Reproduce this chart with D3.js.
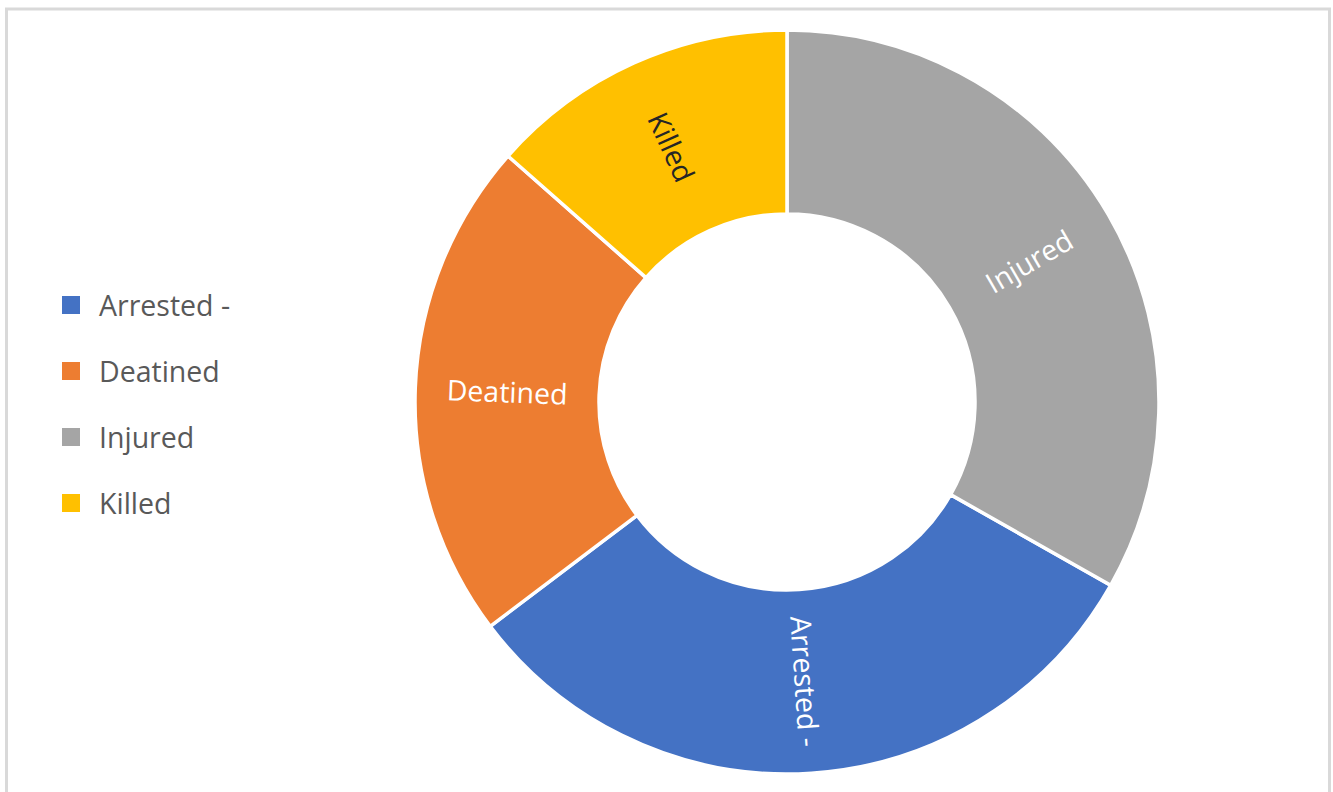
<!DOCTYPE html>
<html>
<head>
<meta charset="utf-8">
<script src="https://cdn.jsdelivr.net/npm/d3@7"></script>
<style>
  body { margin: 0; background: #fff; }
  svg { display: block; font-family: 'Open Sans', sans-serif; }
</style>
</head>
<body>
<script>
// legend order
const categories = ['Arrested -', 'Deatined', 'Injured', 'Killed']
const values = [31.5, 21.8, 33.2, 13.5]
const colors = ['#4472C4', '#ED7D31', '#A5A5A5', '#FFC000']
const labelColors = ['#ffffff', '#ffffff', '#ffffff', '#262626']
// clockwise order of the slices starting at 12 o'clock
const sliceOrder = ['Injured', 'Arrested -', 'Deatined', 'Killed']

const width = 1333, height = 792
const cx = 787, cy = 402
const outerR = 372, innerR = 188

const data = categories.map((c, i) => ({ name: c, value: values[i], color: colors[i], label: labelColors[i] }))

const svg = d3.select('body').append('svg')
    .attr('width', width)
    .attr('height', height)

svg.append('rect')
    .attr('x', 6.5).attr('y', 9)
    .attr('width', 1323).attr('height', 800)
    .attr('fill', 'none')
    .attr('stroke', '#d9d9d9')
    .attr('stroke-width', 3)

const pie = d3.pie()
    .value(d => d.value)
    .sort((a, b) => sliceOrder.indexOf(a.name) - sliceOrder.indexOf(b.name))

const arc = d3.arc().innerRadius(innerR).outerRadius(outerR)

const g = svg.append('g').attr('transform', `translate(${cx},${cy})`)
const arcs = pie(data)

g.selectAll('path')
    .data(arcs)
    .enter()
    .append('path')
    .attr('d', arc)
    .attr('fill', d => d.data.color)
    .attr('stroke', '#fff')
    .attr('stroke-width', 3.5)

g.selectAll('text')
    .data(arcs)
    .enter()
    .append('text')
    .attr('transform', d => {
        const [x, y] = arc.centroid(d)
        const mid = (d.startAngle + d.endAngle) / 2
        let rot = mid * 180 / Math.PI - 90
        while (rot > 90) rot -= 180
        while (rot < -90) rot += 180
        return `translate(${x},${y}) rotate(${rot})`
    })
    .attr('text-anchor', 'middle')
    .attr('dominant-baseline', 'central')
    .attr('font-size', 28.5)
    .attr('fill', d => d.data.label)
    .text(d => d.data.name)

// legend
const legend = svg.append('g')
const rowY = d3.scalePoint().domain(categories).range([305, 503])

const row = legend.selectAll('g')
    .data(data)
    .enter()
    .append('g')
    .attr('transform', d => `translate(0,${rowY(d.name)})`)

row.append('rect')
    .attr('x', 62).attr('y', -9)
    .attr('width', 18).attr('height', 18)
    .attr('fill', d => d.color)

row.append('text')
    .attr('x', 99)
    .attr('dominant-baseline', 'central')
    .attr('font-size', 28.5)
    .attr('fill', '#595959')
    .text(d => d.name)
</script>
</body>
</html>
